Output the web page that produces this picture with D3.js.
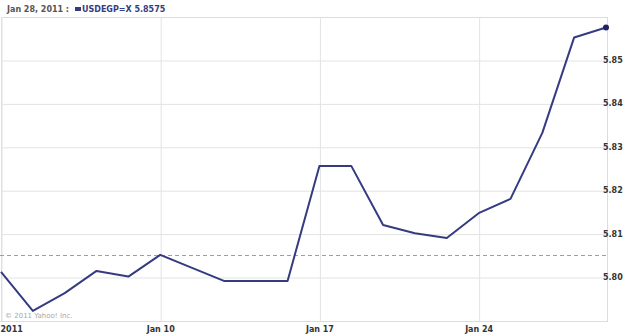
<!DOCTYPE html>
<html><head><meta charset="utf-8">
<script src="https://cdn.jsdelivr.net/npm/d3@7"></script>
<style>
body{margin:0;background:#fff;}
svg{display:block;}
.ax text{font-family:"DejaVu Sans",Verdana,sans-serif;font-weight:bold;font-size:8px;fill:#333;}
</style></head>
<body>
<script>
const dates = ["Jan 3","Jan 4","Jan 5","Jan 6","Jan 7","Jan 10","Jan 11","Jan 12","Jan 13","Jan 14",
               "Jan 17","Jan 18","Jan 19","Jan 20","Jan 21","Jan 24","Jan 25","Jan 26","Jan 27","Jan 28"];
const values = [5.8012,5.7922,5.7963,5.8014,5.8001,5.8051,5.8021,5.7991,5.7991,5.7991,
                5.8256,5.8256,5.8120,5.8101,5.8090,5.8147,5.8180,5.8332,5.8552,5.8575];
const prevClose = 5.8051;
const yTicks = [5.80,5.81,5.82,5.83,5.84,5.85];
const xTickDates = ["Jan 3","Jan 10","Jan 17","Jan 24"];
const xTickLabels = ["2011","Jan 10","Jan 17","Jan 24"];
const headerDate = "Jan 28, 2011 :";
const symbol = "USDEGP=X";
const lastValue = "5.8575";

const W=640,H=335, pL=1, pR=607, pT=17, pB=321;
const svg=d3.select("body").append("svg").attr("width",W).attr("height",H);

const x=d3.scalePoint().domain(dates).range([1,606]);
const y=d3.scaleLinear().domain([5.80,5.85]).range([277,60]);

// plot frame
svg.append("rect").attr("x",pL+0.5).attr("y",pT+0.5).attr("width",pR-pL).attr("height",pB-pT)
  .attr("fill","none").attr("stroke","#dcdcdc");

// horizontal grid + y labels
const ya=svg.append("g").attr("class","ax").attr("transform",`translate(${pR},0)`)
  .call(d3.axisRight(y).tickValues(yTicks).tickFormat(d3.format(".2f")).tickSize(-(pR-pL)));
ya.select(".domain").remove();
ya.selectAll("line").attr("stroke","#e3e3e3").attr("transform","translate(0,0.5)");
ya.selectAll("text").attr("x",-4).attr("text-anchor","start");

// vertical grid + x labels
const xa=svg.append("g").attr("class","ax").attr("transform",`translate(0,${pB})`)
  .call(d3.axisBottom(x).tickValues(xTickDates).tickFormat((d,i)=>xTickLabels[i]).tickSize(-(pB-pT)).tickPadding(4));
xa.select(".domain").remove();
xa.selectAll("line").attr("stroke","#e3e3e3").attr("transform","translate(0.5,0)");
xa.selectAll("text").attr("y",4).attr("dy","0.9em");
xa.selectAll("text").filter((d,i)=>i===0).attr("text-anchor","start").attr("x",-x(xTickDates[0]));

// bottom line
svg.append("line").attr("x1",0).attr("x2",pR).attr("y1",pB+0.5).attr("y2",pB+0.5).attr("stroke","#dcdcdc");

// previous close dashed
svg.append("line").attr("x1",0).attr("x2",pR).attr("y1",Math.round(y(prevClose))+0.5).attr("y2",Math.round(y(prevClose))+0.5)
  .attr("stroke","#e8855a").attr("stroke-dasharray","4,3").attr("stroke-width",1.2);

// copyright
svg.append("text").attr("x",5).attr("y",318).attr("font-family","DejaVu Sans,sans-serif").attr("font-size",7)
  .attr("fill","#a8a8a8").text("© 2011 Yahoo! Inc.");

// line
svg.append("path").datum(values.map((v,i)=>[dates[i],v]))
  .attr("d",d3.line().x(d=>x(d[0])).y(d=>y(d[1])))
  .attr("fill","none").attr("stroke","#353b80").attr("stroke-width",2).attr("stroke-linejoin","round");
svg.append("circle").attr("cx",x(dates[dates.length-1])).attr("cy",y(values[values.length-1])).attr("r",3).attr("fill","#1f2463");

// header
const hf="DejaVu Sans,Verdana,sans-serif";
svg.append("text").attr("x",7).attr("y",12).attr("font-family",hf).attr("font-weight","bold").attr("font-size",8)
  .attr("fill","#555").text(headerDate);
svg.append("rect").attr("x",75).attr("y",7).attr("width",6).attr("height",4).attr("fill","#353b80");
svg.append("text").attr("x",82).attr("y",12).attr("font-family",hf).attr("font-weight","bold").attr("font-size",8)
  .attr("fill","#353b80").text(symbol+" "+lastValue);
</script>
</body></html>
